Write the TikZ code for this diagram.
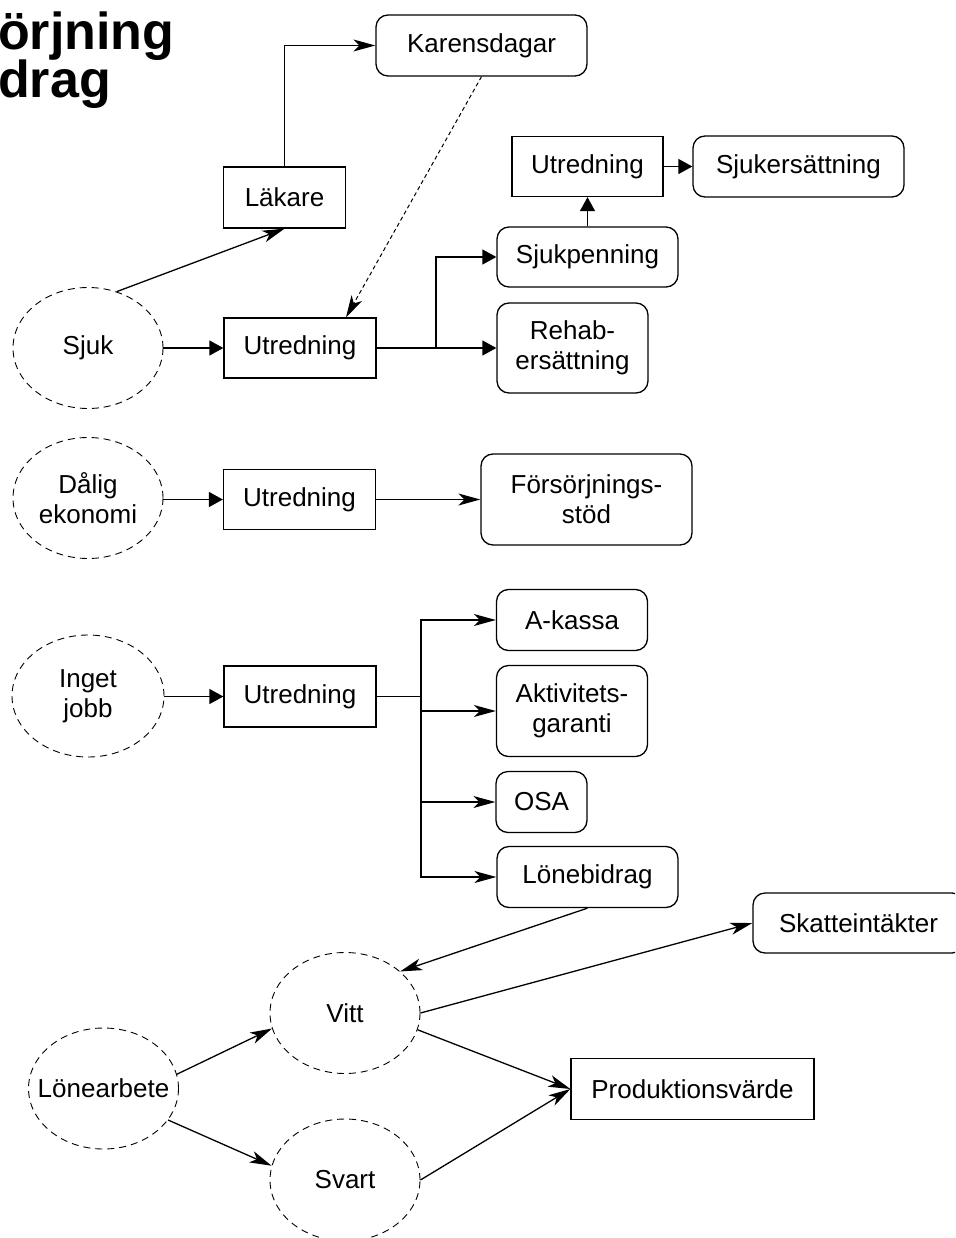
\documentclass[tikz,border=0pt]{standalone}
\usepackage{fontspec}
\setmainfont{Liberation Sans}
\usetikzlibrary{arrows.meta,shapes.geometric,calc}

\tikzset{
  txt/.style={font=\fontsize{26}{30}\selectfont, align=center},
  box/.style={draw, rectangle, line width=1.3pt, inner sep=0pt, txt},
  rbox/.style={box, rounded corners=12pt},
  oval/.style={draw, ellipse, dash pattern=on 7pt off 5pt, line width=0.9pt,
               inner sep=0pt, minimum width=150pt, minimum height=121pt},
  lbl/.style={txt, inner sep=0pt},
  conn/.style={line width=1.3pt},
  classic/.style={conn, -{Stealth[length=22pt,width=12pt,inset=6pt]}},
  block/.style={conn, -{Triangle[length=14pt,width=15pt]}},
  dotted link/.style={classic, line width=1pt, dash pattern=on 4pt off 3pt},
  title/.style={anchor=base west, inner sep=0pt, font=\bfseries\fontsize{52}{52}\selectfont}
}

\begin{document}
\begin{tikzpicture}[x=1pt, y=-1pt]
  \useasboundingbox (0,0) rectangle (955,1238);
  \clip (0,0) rectangle (955,1238);
  \fill[white] (0,0) rectangle (955,1238);

  % heading
  \node[title] (t1) at (-2,50) {örjning};
  \node[title] (t2) at (-2,98) {drag};

  % sickness branch
  \node[rbox, minimum width=211pt, minimum height=61pt] (kar) at (481.5,45.5) {Karensdagar};
  \node[box, minimum width=122pt, minimum height=61pt] (lak) at (284.5,197.5) {Läkare};
  \node[oval, label={[lbl]center:Sjuk}] (sjuk) at (88,348) {};
  \node[box, minimum width=152pt, minimum height=60pt] (u1) at (300,348) {Utredning};
  \node[box, minimum width=151pt, minimum height=60pt] (u2) at (587.5,166.5) {Utredning};
  \node[rbox, minimum width=211pt, minimum height=61pt] (sjs) at (798.5,166.5) {Sjukersättning};
  \node[rbox, minimum width=181pt, minimum height=60pt] (sjp) at (587.5,257) {Sjukpenning};
  \node[rbox, minimum width=151pt, minimum height=90pt] (reh) at (572.5,348) {Rehab-\\ersättning};

  % poor economy branch
  \node[oval, label={[lbl]center:{Dålig\\ekonomi}}] (dal) at (88,498) {};
  \node[box, minimum width=152pt, minimum height=60pt] (u3) at (299.5,499.5) {Utredning};
  \node[rbox, minimum width=211pt, minimum height=91pt] (fss) at (586.5,499.5) {Försörjnings-\\stöd};

  % unemployment branch
  \node[oval, minimum width=152pt, minimum height=122pt, label={[lbl]center:{Inget\\jobb}}] (ing) at (88,696) {};
  \node[box, minimum width=152pt, minimum height=61pt] (u4) at (300,696.5) {Utredning};
  \node[rbox, minimum width=151pt, minimum height=61pt] (aka) at (572,620) {A-kassa};
  \node[rbox, minimum width=151pt, minimum height=91pt] (akt) at (572,711) {Aktivitets-\\garanti};
  \node[rbox, minimum width=91pt, minimum height=61pt] (osa) at (541.5,802) {OSA};
  \node[rbox, minimum width=181pt, minimum height=61pt] (lon) at (587.5,877) {Lönebidrag};

  % wage work
  \node[rbox, minimum width=211pt, minimum height=60pt] (ska) at (858.5,923) {Skatteintäkter};
  \node[oval, label={[lbl]center:Vitt}] (vitt) at (345,1013) {};
  \node[oval, label={[lbl]center:Lönearbete}] (lar) at (103.5,1088.5) {};
  \node[oval, minimum height=122pt, label={[lbl]center:Svart}] (sva) at (345,1180) {};
  \node[box, minimum width=243pt, minimum height=61pt] (pro) at (692.5,1089) {Produktionsvärde};

  % junction points
  \coordinate (b1) at (436,348);
  \coordinate (b2) at (421,696.5);

  % connectors: sickness
  \draw[classic] (lak.north) |- (kar.west);
  \draw[classic] (sjuk.63) -- (lak.south);
  \draw[dotted link] (kar.south) -- ($(u1.north west)!0.8!(u1.north east)$);
  \draw[block] (sjuk.east) -- (u1.west);
  \draw[conn] (u1.east) -- (b1);
  \draw[block] (b1) |- (sjp.west);
  \draw[block] (b1) -- (reh.west);
  \draw[block] (sjp.north) -- (u2.south);
  \draw[block] (u2.east) -- (sjs.west);

  % connectors: poor economy
  \draw[block] (dal.east |- u3.west) -- (u3.west);
  \draw[classic] (u3.east) -- (fss.west);

  % connectors: unemployment
  \draw[block] (ing.east |- u4.west) -- (u4.west);
  \draw[conn] (u4.east) -- (b2);
  \draw[classic] (b2) |- (aka.west);
  \draw[classic] (b2) |- (akt.west);
  \draw[classic] (b2) |- (osa.west);
  \draw[classic] (b2) |- (lon.west);

  % connectors: wage work
  \draw[classic] (lon.south) -- (vitt.37);
  \draw[classic] (vitt.east) -- (ska.west);
  \draw[classic] (vitt.-13) -- (pro.west);
  \draw[classic] (sva.east) -- (pro.west);
  \draw[classic] (lar.11) -- (vitt.192);
  \draw[classic] (lar.-26) -- (sva.169);
\end{tikzpicture}
\end{document}
